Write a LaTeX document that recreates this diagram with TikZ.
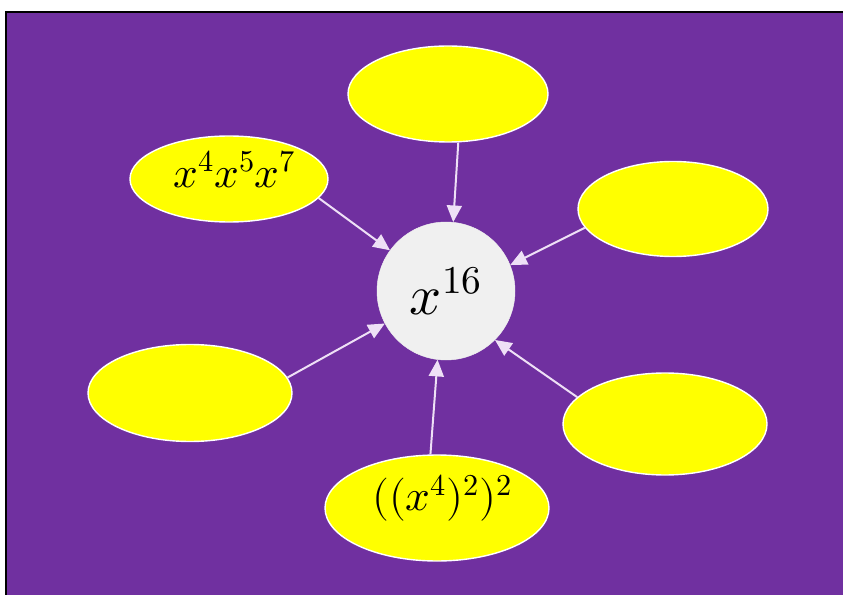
\documentclass[tikz,border=0pt]{standalone}
\usepackage{unicode-math}
\usetikzlibrary{shapes.geometric,arrows.meta}
\definecolor{bgpurple}{HTML}{7030A0}
\definecolor{ellyellow}{HTML}{FFFF00}
\definecolor{circgray}{HTML}{F0F0F0}
\definecolor{arrowwhite}{RGB}{238,224,246}
\def\px{0.03cm}
\tikzset{
  bubble/.style={ellipse, draw=white, line width=1.2pt, fill=ellyellow, inner sep=0pt},
  hub/.style={circle, fill=circgray, draw=circgray, inner sep=0pt, minimum size=138*\px},
  link/.style={draw=arrowwhite, line width=1.7pt, -{Triangle[length=0.5cm,width=0.45cm]}},
  bubbletext/.style={font=\fontsize{37}{44}\selectfont},
}
\begin{document}
\begin{tikzpicture}[x=\px, y=-\px]
\useasboundingbox (0,0) rectangle (843,595);
\clip (0,0) rectangle (843,595);
\fill[white] (0,0) rectangle (843,595);
\draw[fill=bgpurple, draw=black, line width=1.2pt] (6,12) rectangle (860,610);

\node[hub, font=\fontsize{48}{56}\selectfont] (c) at (446,291) {$x^{16}$};

\node[bubble, minimum width=200*\px, minimum height=96*\px] (top) at (448,94) {};
\node[bubble, bubbletext, minimum width=198*\px, minimum height=86*\px, text height=0.5cm] (tl) at (229,179) {\hspace*{0.35cm}$x^4x^5x^7$};
\node[bubble, minimum width=190*\px, minimum height=95*\px] (tr) at (673,209) {};
\node[bubble, minimum width=204*\px, minimum height=97*\px] (bl) at (190,393) {};
\node[bubble, minimum width=204*\px, minimum height=102*\px] (br) at (665,424) {};
\node[bubble, bubbletext, minimum width=224*\px, minimum height=106*\px, text height=0.5cm] (bot) at (437,508) {\hspace*{0.3cm}$((x^4)^2)^2$};

\draw[link] (top.-78) -- (c.84);
\draw[link] (tl.-12) -- (c.144);
\draw[link] (tr.-168) -- (c.22);
\draw[link] (bl.9) -- (c.208);
\draw[link] (br.163) -- (c.-45);
\draw[link] (bot.97) -- (c.-97);
\end{tikzpicture}
\end{document}
